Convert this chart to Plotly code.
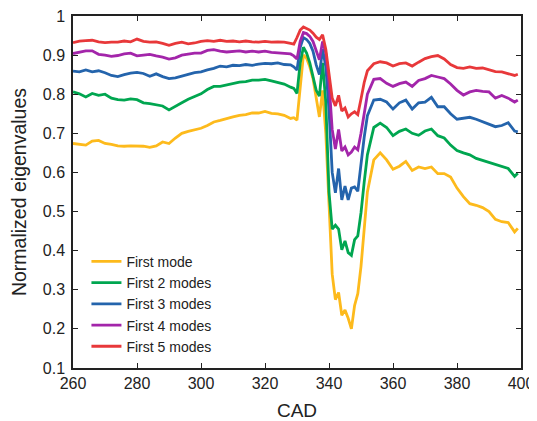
import plotly.graph_objects as go

CAD = (list(range(260, 329, 2)) + list(range(329, 353)) + list(range(354, 399, 2)) + [399])

first_mode = [
    0.674, 0.672, 0.670, 0.680, 0.682, 0.674, 0.672, 0.668, 0.667, 0.668,
    0.668, 0.667, 0.664, 0.668, 0.678, 0.674, 0.688, 0.700, 0.705, 0.709,
    0.713, 0.720, 0.729, 0.733, 0.738, 0.742, 0.746, 0.748, 0.752, 0.752,
    0.756, 0.751, 0.750, 0.746, 0.738,
    0.740, 0.734, 0.820, 0.900, 0.892, 0.870, 0.840, 0.795, 0.742, 0.810,
    0.700, 0.520, 0.340, 0.275, 0.293, 0.235, 0.248, 0.227, 0.200, 0.260,
    0.290, 0.360, 0.450, 0.550,
    0.632, 0.650, 0.632, 0.608, 0.616, 0.628, 0.605, 0.614, 0.610, 0.614,
    0.597, 0.597, 0.588, 0.560, 0.538, 0.520, 0.516, 0.510, 0.500, 0.480,
    0.474, 0.472, 0.448, 0.457,
]

first_2_modes = [
    0.806, 0.801, 0.793, 0.802, 0.797, 0.800, 0.790, 0.786, 0.785, 0.788,
    0.786, 0.778, 0.776, 0.772, 0.770, 0.760, 0.768, 0.778, 0.787, 0.795,
    0.801, 0.812, 0.820, 0.820, 0.824, 0.828, 0.831, 0.832, 0.836, 0.836,
    0.838, 0.834, 0.830, 0.826, 0.818,
    0.815, 0.802, 0.880, 0.920, 0.905, 0.880, 0.845, 0.810, 0.795, 0.880,
    0.780, 0.550, 0.455, 0.465, 0.455, 0.402, 0.425, 0.395, 0.388, 0.428,
    0.438, 0.497, 0.575, 0.645,
    0.715, 0.726, 0.715, 0.694, 0.705, 0.711, 0.700, 0.695, 0.706, 0.711,
    0.694, 0.688, 0.670, 0.656, 0.650, 0.645, 0.636, 0.631, 0.624, 0.620,
    0.615, 0.610, 0.590, 0.598,
]

first_3_modes = [
    0.859, 0.857, 0.862, 0.857, 0.860, 0.855, 0.848, 0.845, 0.850, 0.854,
    0.856, 0.853, 0.846, 0.852, 0.845, 0.840, 0.842, 0.847, 0.851, 0.855,
    0.857, 0.862, 0.866, 0.872, 0.870, 0.874, 0.873, 0.876, 0.874, 0.877,
    0.879, 0.878, 0.880, 0.876, 0.875,
    0.870, 0.862, 0.920, 0.945, 0.940, 0.930, 0.910, 0.875, 0.850, 0.915,
    0.870, 0.760, 0.600, 0.548, 0.610, 0.530, 0.565, 0.530, 0.560, 0.563,
    0.552, 0.625, 0.690, 0.745,
    0.785, 0.787, 0.780, 0.762, 0.778, 0.785, 0.762, 0.778, 0.780, 0.792,
    0.768, 0.768, 0.750, 0.736, 0.738, 0.741, 0.736, 0.730, 0.725, 0.717,
    0.720, 0.727, 0.706, 0.704,
]

first_4_modes = [
    0.904, 0.908, 0.911, 0.911, 0.902, 0.900, 0.897, 0.899, 0.903, 0.905,
    0.898, 0.900, 0.902, 0.898, 0.895, 0.890, 0.893, 0.900, 0.903, 0.905,
    0.905, 0.912, 0.914, 0.910, 0.908, 0.909, 0.911, 0.908, 0.910, 0.908,
    0.910, 0.907, 0.906, 0.905, 0.903,
    0.898, 0.890, 0.935, 0.958, 0.955, 0.948, 0.935, 0.912, 0.888, 0.935,
    0.905, 0.830, 0.710, 0.660, 0.710, 0.655, 0.665, 0.645, 0.652, 0.665,
    0.658, 0.700, 0.755, 0.800,
    0.838, 0.840, 0.828, 0.820, 0.827, 0.831, 0.820, 0.835, 0.840, 0.848,
    0.844, 0.840, 0.826, 0.810, 0.798, 0.806, 0.810, 0.807, 0.806, 0.790,
    0.797, 0.790, 0.780, 0.785,
]

first_5_modes = [
    0.932, 0.936, 0.937, 0.938, 0.934, 0.932, 0.933, 0.933, 0.936, 0.934,
    0.941, 0.935, 0.933, 0.934, 0.930, 0.925, 0.930, 0.933, 0.929, 0.931,
    0.935, 0.937, 0.935, 0.938, 0.935, 0.936, 0.934, 0.936, 0.934, 0.933,
    0.935, 0.933, 0.934, 0.933, 0.930,
    0.928, 0.945, 0.964, 0.972, 0.969, 0.964, 0.956, 0.946, 0.940, 0.952,
    0.915, 0.850, 0.790, 0.770, 0.797, 0.757, 0.765, 0.742, 0.750, 0.755,
    0.748, 0.788, 0.830, 0.860,
    0.878, 0.883, 0.880, 0.872, 0.878, 0.880, 0.872, 0.882, 0.891, 0.896,
    0.899, 0.890, 0.876, 0.868, 0.866, 0.870, 0.866, 0.867, 0.862, 0.858,
    0.857, 0.853, 0.848, 0.851,
]

series_names = ["First mode", "First 2 modes", "First 3 modes", "First 4 modes", "First 5 modes"]
series_values = [first_mode, first_2_modes, first_3_modes, first_4_modes, first_5_modes]
colors = ["#FDBA1C", "#00A650", "#2464AC", "#A325AA", "#E8383A"]

x_ticks = [260, 280, 300, 320, 340, 360, 380, 400]
y_ticks = [0.1, 0.2, 0.3, 0.4, 0.5, 0.6, 0.7, 0.8, 0.9, 1.0]
y_ticklabels = ["0.1", "0.2", "0.3", "0.4", "0.5", "0.6", "0.7", "0.8", "0.9", "1"]

fig = go.Figure()
for name, vals, col in zip(series_names, series_values, colors):
    fig.add_trace(go.Scatter(x=CAD, y=vals, mode="lines", name=name,
                             line=dict(color=col, width=2.8)))

font_family = "Liberation Sans, Arial, sans-serif"
fig.update_layout(
    width=529, height=413,
    margin=dict(l=65, r=16, t=8, b=53),
    paper_bgcolor="white", plot_bgcolor="white",
    font=dict(family=font_family, color="#222222"),
    showlegend=True,
    legend=dict(x=0.03, y=0.347, xanchor="left", yanchor="top",
                bgcolor="rgba(0,0,0,0)", font=dict(size=14, color="#222222"),
                itemwidth=30, tracegroupgap=0),
)
fig.update_xaxes(range=[260, 400], tickvals=x_ticks, ticks="inside", ticklen=5,
                 mirror="ticks", showline=True, linecolor="#222222", linewidth=1.5,
                 tickcolor="#222222", tickwidth=1, showgrid=False, zeroline=False,
                 automargin=False, ticklabeloverflow="allow",
                 tickfont=dict(size=16), title=dict(text="CAD", font=dict(size=19), standoff=14))
fig.update_yaxes(range=[0.1, 1.0], tickvals=y_ticks, ticktext=y_ticklabels, ticks="inside",
                 ticklen=5, mirror="ticks", showline=True, linecolor="#222222", linewidth=1.5,
                 tickcolor="#222222", tickwidth=1, showgrid=False, zeroline=False,
                 automargin=False, ticklabelstandoff=3, ticklabeloverflow="allow",
                 tickfont=dict(size=16),
                 title=dict(text="Normalized eigenvalues", font=dict(size=19.5), standoff=20))

fig.write_html("out.html")
